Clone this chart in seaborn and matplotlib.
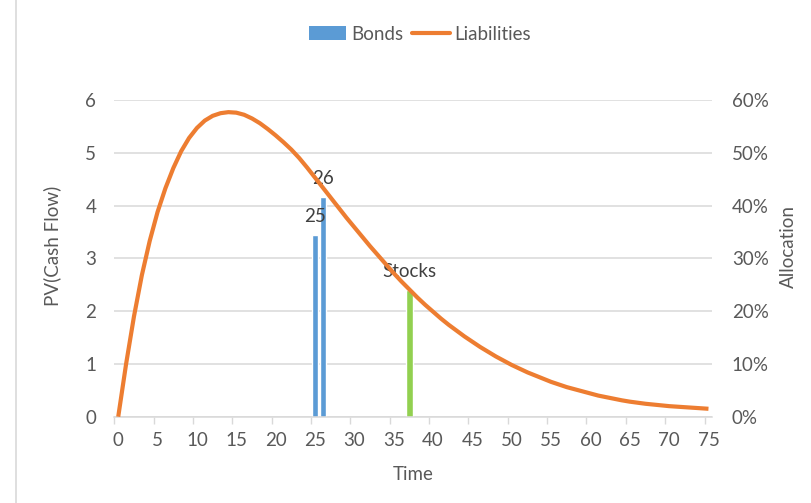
import matplotlib
matplotlib.use("Agg")
import matplotlib.pyplot as plt
from matplotlib.patches import Patch
from matplotlib.lines import Line2D
from matplotlib.ticker import FixedLocator, FixedFormatter, PercentFormatter, NullFormatter
import pandas as pd
import seaborn as sns

# ---- data -------------------------------------------------------------
time = list(range(76))
liabilities = [
    0.00, 1.00, 1.90, 2.68, 3.33, 3.88, 4.33, 4.71, 5.03, 5.28,
    5.47, 5.61, 5.70, 5.75, 5.77, 5.76, 5.72, 5.65, 5.56, 5.45,
    5.33, 5.20, 5.06, 4.90, 4.72, 4.53, 4.34, 4.15, 3.96, 3.77,
    3.59, 3.41, 3.23, 3.06, 2.89, 2.72, 2.56, 2.41, 2.26, 2.12,
    1.99, 1.86, 1.74, 1.63, 1.52, 1.42, 1.32, 1.23, 1.14, 1.06,
    0.98, 0.91, 0.84, 0.78, 0.72, 0.66, 0.61, 0.56, 0.52, 0.48,
    0.44, 0.40, 0.37, 0.34, 0.31, 0.285, 0.265, 0.245, 0.23, 0.215,
    0.20, 0.19, 0.18, 0.17, 0.16, 0.15,
]
bond_times = [25, 26]
bond_alloc = [0.344, 0.416]
bond_labels = ["25", "26"]
stock_times = [37]
stock_alloc = [0.24]
stock_labels = ["Stocks"]
x_tick_values = list(range(0, 76, 5))

# ---- style ------------------------------------------------------------
BLUE = "#5B9BD5"
ORANGE = "#ED7D31"
GREEN = "#92D050"
GRID = "#D9D9D9"
TXT = "#595959"
LBL = "#404040"
FS = 13.5

sns.set_theme(style="white")
plt.rcParams["font.family"] = ["Lato", "DejaVu Sans"]

W, H = 811, 503
fig = plt.figure(figsize=(W / 100, H / 100), dpi=100)
fig.patch.set_facecolor("white")
left, right, top, bottom = 114.3, 712.4, 100.0, 416.7
rect = [left / W, 1 - bottom / H, (right - left) / W, (bottom - top) / H]

ax = fig.add_axes(rect)
ax2 = ax.twinx()
ax.set_zorder(2)
ax2.set_zorder(1)
ax.patch.set_visible(False)
ax2.patch.set_facecolor("white")

# categories sit in the middle of their slot
half = 0.5
df = pd.DataFrame({"pos": [t + half for t in time], "pv": liabilities})

# allocation bars and their labels (secondary axis, drawn underneath)
bw = 0.85
ax2.bar([t + half for t in bond_times], bond_alloc, width=bw, color=BLUE, zorder=2)
ax2.bar([t + half for t in stock_times], stock_alloc, width=bw, color=GREEN, zorder=2)
for t, v, s in zip(bond_times + stock_times, bond_alloc + stock_alloc,
                   bond_labels + stock_labels):
    ax2.annotate(s, (t + half, v), xytext=(0, 9.5), textcoords="offset points",
                 ha="center", va="baseline", fontsize=FS, color=LBL, zorder=3)

ax2.set_ylim(0, 0.6)
ax2.yaxis.set_major_locator(FixedLocator([i / 10 for i in range(7)]))
ax2.yaxis.set_major_formatter(PercentFormatter(1.0, decimals=0))
ax2.yaxis.grid(True, color=GRID, linewidth=1.1, zorder=0)
ax2.set_axisbelow(True)
ax2.tick_params(axis="y", length=0, pad=14, labelsize=FS, labelcolor=TXT)
for sp in ax2.spines.values():
    sp.set_visible(False)

# liabilities curve (primary axis, on top)
sns.lineplot(data=df, x="pos", y="pv", ax=ax, color=ORANGE, linewidth=3,
             solid_capstyle="butt", solid_joinstyle="round", zorder=5)

ax.set_xlim(0, 76)
ax.set_ylim(0, 6)
ax.yaxis.set_major_locator(FixedLocator(range(7)))
ax.tick_params(axis="y", length=0, pad=13, labelsize=FS, labelcolor=TXT)

ax.xaxis.set_major_locator(FixedLocator(x_tick_values))
ax.xaxis.set_major_formatter(NullFormatter())
ax.xaxis.set_minor_locator(FixedLocator([t + half for t in x_tick_values]))
ax.xaxis.set_minor_formatter(FixedFormatter([str(t) for t in x_tick_values]))
ax.tick_params(axis="x", which="major", length=5, width=1, color=GRID,
               direction="out", bottom=True)
ax.tick_params(axis="x", which="minor", length=0, pad=11, labelsize=FS,
               labelcolor=TXT, bottom=True)
ax.set_xlabel("")
ax.set_ylabel("")
for name, sp in ax.spines.items():
    sp.set_visible(name == "bottom")
ax.spines["bottom"].set_color(GRID)
ax.spines["bottom"].set_linewidth(1.1)

# axis titles
fig.text(52 / W, 1 - 246 / H, "PV(Cash Flow)", rotation=90, ha="center",
         va="center", fontsize=FS, color=TXT)
fig.text(788 / W, 1 - 246 / H, "Allocation", rotation=90, ha="center",
         va="center", fontsize=FS, color=TXT)
fig.text(413 / W, 1 - 474 / H, "Time", ha="center", va="center",
         fontsize=FS, color=TXT)

# legend
handles = [Patch(facecolor=BLUE, edgecolor="none"),
           Line2D([], [], color=ORANGE, linewidth=3)]
leg = fig.legend(handles, ["Bonds", "Liabilities"], loc="center",
                 bbox_to_anchor=(420 / W, 1 - 34 / H), ncol=2, frameon=False,
                 fontsize=FS, handlelength=2.0, handletextpad=0.25,
                 columnspacing=0.5)
for t in leg.get_texts():
    t.set_color(TXT)

# chart frame edge on the left
fig.add_artist(Line2D([16 / W, 16 / W], [0, 1], transform=fig.transFigure,
                      color=GRID, linewidth=1.2))

fig.savefig("out.png", dpi=100, facecolor="white")
